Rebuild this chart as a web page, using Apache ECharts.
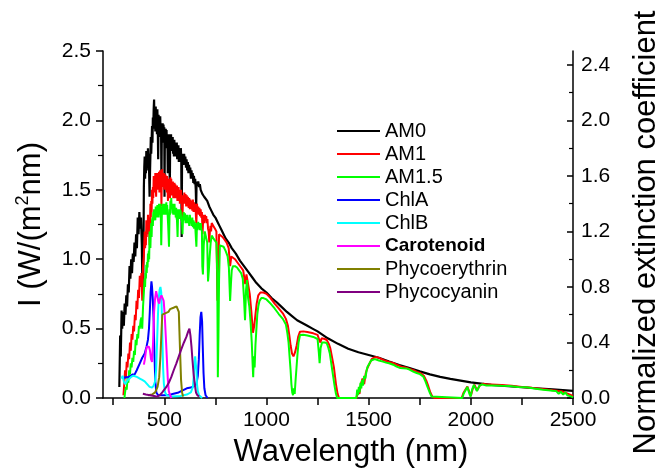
<!DOCTYPE html>
<html>
<head>
<meta charset="utf-8">
<script src="https://cdn.jsdelivr.net/npm/echarts@6/dist/echarts.min.js"></script>
<style>
  html, body { margin: 0; padding: 0; background: #fff; }
  #chart { width: 660px; height: 472px; }
</style>
</head>
<body>
<div id="chart"></div>
<script>
// Solar irradiance spectra, W/(m^2 nm), as [wavelength nm, value]
const am0 = [[280,0.08],[284,0.45],[287,0.3],[291,0.63],[294,0.5],[298,0.62],[302,0.52],[306,0.68],[310,0.6],[314,0.74],[318,0.66],[322,0.82],[326,0.76],[330,0.95],[334,0.86],[338,1.0],[342,0.9],[346,1.04],[350,0.98],[354,1.12],[358,1.02],[362,1.18],[366,1.08],[370,1.3],[374,1.18],[378,1.34],[382,1.22],[386,1.3],[390,1.1],[393,0.78],[395,1.2],[397,0.8],
  [400,1.52],[402,1.66],[404,1.74],[406,1.58],[408,1.7],[410,1.62],[412,1.78],[414,1.64],[416,1.74],[418,1.66],[420,1.8],[422,1.7],[424,1.76],[426,1.6],[428,1.45],[430,1.62],[432,1.75],[434,1.88],[436,1.76],[438,1.86],[440,1.96],[442,1.84],[444,2.02],[446,1.94],[448,2.08],[450,2.15],[452,1.98],[454,2.06],[456,1.92],[458,2.1],[460,1.96],[462,2.05],[464,1.9],[466,2.08],[468,1.95],[470,1.72],[472,2.04],[474,1.92],[476,2.02],[478,1.88],[480,2.03],[482,1.9],[484,1.98],[486,1.55],[488,1.96],[490,1.86],[492,1.98],[494,1.84],[496,1.97],[498,1.88],[500,1.95],[501,1.45],[503,1.92],[505,1.82],[507,1.94],[509,1.84],[511,1.93],[513,1.8],[515,1.9],[517,1.62],[519,1.9],[521,1.8],[523,1.88],[525,1.78],[527,1.5],[529,1.9],[531,1.84],[533,1.9],[535,1.8],[537,1.88],[539,1.78],[541,1.88],[543,1.76],[545,1.86],[547,1.74],[549,1.86],[551,1.78],[553,1.84],[555,1.74],[557,1.84],[559,1.76],[561,1.84],[563,1.72],[565,1.82],[567,1.74],[569,1.82],[571,1.7],[573,1.8],[575,1.72],[577,1.8],[579,1.7],[581,1.8],[583,1.72],[585,1.16],[587,1.76],[589,1.7],[591,1.76],[594,1.68],[597,1.76],[600,1.7],[603,1.74],[606,1.66],[609,1.72],[612,1.64],[615,1.7],[618,1.62],[621,1.68],[624,1.62],[627,1.66],[630,1.58],[633,1.64],[636,1.58],[639,1.62],[642,1.55],[645,1.6],[648,1.54],[651,1.58],[654,1.5],[656,1.38],[658,1.56],[662,1.54],[666,1.56],[670,1.52],[674,1.54],[678,1.5],[682,1.51],[686,1.47],[690,1.48],[695,1.45],[700,1.45],
  [710,1.42],[720,1.38],[730,1.35],[740,1.32],[750,1.3],[760,1.27],[770,1.24],[780,1.21],[790,1.18],[800,1.15],[815,1.12],[830,1.08],[850,1.04],[870,0.99],[890,0.95],[910,0.91],[930,0.87],[950,0.83],[975,0.79],[1000,0.76],[1025,0.72],[1050,0.69],[1075,0.655],[1100,0.62],[1125,0.59],[1150,0.56],[1175,0.54],[1200,0.52],[1225,0.5],[1250,0.48],[1275,0.455],[1300,0.43],[1350,0.39],[1400,0.355],[1450,0.33],[1500,0.31],[1550,0.29],[1600,0.262],[1650,0.237],[1700,0.215],[1750,0.192],[1800,0.17],[1850,0.152],[1900,0.138],[1950,0.125],[2000,0.112],[2100,0.095],[2200,0.083],[2300,0.072],[2400,0.062],[2500,0.052]];

const am1 = [[300,0.02],[304,0.1],[308,0.2],[312,0.14],[316,0.26],[320,0.22],[324,0.32],[328,0.28],[332,0.4],[336,0.34],[340,0.46],[344,0.42],[348,0.52],[352,0.48],[356,0.6],[360,0.56],[364,0.7],[368,0.64],[372,0.78],[376,0.72],[380,0.88],[384,0.8],[388,0.9],[392,0.7],[396,0.95],
  [400,1.02],[402,1.12],[404,1.2],[406,1.08],[408,1.16],[410,1.1],[412,1.28],[414,1.16],[416,1.26],[418,1.18],[420,1.32],[422,1.22],[424,1.3],[426,1.2],[428,1.1],[430,1.26],[432,1.4],[434,1.3],[436,1.42],[438,1.34],[440,1.5],[442,1.4],[444,1.52],[446,1.44],[448,1.6],[450,1.5],[452,1.58],[454,1.48],[456,1.62],[458,1.52],[460,1.45],[462,1.6],[464,1.52],[466,1.62],[468,1.5],[470,1.6],[472,1.5],[474,1.63],[476,1.48],[478,1.6],[480,1.64],[482,1.52],[484,1.6],[486,1.38],[488,1.6],[490,1.65],[492,1.54],[494,1.62],[496,1.52],[498,1.62],[500,1.5],[502,1.6],[504,1.5],[506,1.61],[508,1.5],[510,1.6],[512,1.48],[514,1.6],[516,1.5],[518,1.42],[520,1.58],[522,1.48],[524,1.58],[526,1.5],[528,1.44],[530,1.59],[532,1.48],[534,1.58],[536,1.46],[538,1.56],[540,1.48],[542,1.56],[544,1.44],[546,1.54],[548,1.46],[550,1.55],[552,1.44],[554,1.54],[556,1.45],[558,1.52],[560,1.44],[562,1.53],[564,1.42],[566,1.5],[568,1.44],[570,1.52],[572,1.42],[574,1.5],[576,1.4],[578,1.5],[580,1.42],[582,1.5],[586,1.4],[589,1.3],[592,1.46],[595,1.4],[598,1.48],[601,1.4],[604,1.47],[607,1.38],[610,1.46],[613,1.38],[616,1.45],[619,1.37],[622,1.44],[625,1.36],[628,1.43],[631,1.36],[634,1.42],[637,1.35],[640,1.43],[643,1.34],[646,1.41],[649,1.34],[652,1.4],[655,1.3],[657,1.26],[660,1.4],[663,1.33],[666,1.38],[669,1.32],[672,1.37],[675,1.31],[678,1.36],[681,1.3],[684,1.34],[687,1.18],[690,1.28],[693,1.32],[696,1.26],[699,1.32],[702,1.28],[705,1.31],[708,1.26],[711,1.29],[714,1.22],[717,1.2],[720,1.12],[723,1.2],[726,1.24],[729,1.2],[732,1.26],
  [740,1.24],[748,1.22],[755,1.2],[760,0.7],[764,0.9],[768,1.18],[775,1.19],[785,1.16],[795,1.14],[805,1.12],[815,1.08],[822,0.95],[828,1.02],[836,1.01],[846,1.0],[856,0.98],[866,0.96],[876,0.94],[886,0.92],[896,0.82],[902,0.89],[910,0.82],[918,0.75],[926,0.62],[934,0.47],[940,0.52],[946,0.6],[952,0.68],[960,0.74],[970,0.76],[985,0.76],[1000,0.75],[1020,0.72],[1040,0.68],[1060,0.645],[1080,0.61],[1095,0.57],[1105,0.52],[1112,0.45],[1118,0.38],[1125,0.32],[1132,0.3],[1140,0.33],[1148,0.38],[1155,0.44],[1164,0.478],[1180,0.48],[1200,0.475],[1229,0.466],[1250,0.455],[1258,0.42],[1264,0.4],[1270,0.43],[1285,0.425],[1295,0.418],[1305,0.39],[1312,0.36],[1320,0.3],[1330,0.22],[1340,0.1],[1348,0.03],[1355,0.0],[1440,0.0],[1448,0.05],[1455,0.03],[1462,0.1],[1470,0.14],[1478,0.1],[1486,0.18],[1495,0.22],[1505,0.25],[1515,0.28],[1525,0.29],[1540,0.295],[1556,0.285],[1575,0.272],[1600,0.26],[1620,0.252],[1637,0.24],[1660,0.226],[1680,0.22],[1700,0.21],[1720,0.2],[1740,0.185],[1755,0.178],[1770,0.16],[1782,0.125],[1792,0.085],[1802,0.04],[1812,0.01],[1822,0.0],[1955,0.0],[1965,0.04],[1983,0.082],[1995,0.035],[2000,0.015],[2010,0.07],[2018,0.097],[2030,0.055],[2045,0.092],[2060,0.102],[2080,0.098],[2100,0.097],[2150,0.094],[2200,0.089],[2250,0.08],[2300,0.073],[2350,0.064],[2400,0.055],[2450,0.046],[2500,0.015]];

const am15 = [[305,0.0],[308,0.04],[312,0.08],[316,0.06],[320,0.14],[324,0.11],[328,0.2],[332,0.17],[336,0.25],[340,0.22],[344,0.29],[348,0.26],[352,0.34],[356,0.31],[360,0.42],[364,0.38],[368,0.46],[372,0.43],[376,0.52],[380,0.5],[384,0.56],[388,0.58],[392,0.5],[396,0.66],
  [400,0.76],[402,0.82],[404,0.86],[406,0.8],[408,0.9],[410,0.86],[412,0.96],[414,0.9],[416,0.98],[418,0.94],[420,1.04],[422,0.98],[424,1.06],[426,1.0],[428,1.2],[430,1.1],[432,1.08],[434,1.2],[436,1.26],[438,1.16],[440,1.28],[442,1.3],[444,1.24],[446,1.34],[448,1.28],[450,1.36],[452,1.3],[454,1.34],[456,1.28],[458,1.38],[460,1.32],[462,1.36],[464,1.3],[466,1.39],[468,1.32],[470,1.37],[472,1.3],[474,1.4],[476,1.32],[478,1.38],[480,1.33],[482,1.4],[485,1.1],[488,1.32],[490,1.38],[492,1.32],[494,1.4],[496,1.33],[498,1.38],[500,1.32],[502,1.4],[504,1.33],[506,1.38],[508,1.32],[510,1.41],[512,1.34],[514,1.39],[516,1.33],[519,1.24],[523,1.09],[526,1.36],[528,1.32],[530,1.42],[532,1.36],[534,1.44],[536,1.36],[538,1.4],[540,1.33],[542,1.4],[544,1.32],[546,1.38],[548,1.32],[550,1.4],[552,1.33],[554,1.37],[556,1.3],[558,1.37],[560,1.3],[562,1.28],[565,1.16],[568,1.36],[570,1.3],[572,1.35],[574,1.29],[576,1.36],[578,1.3],[580,1.35],[583,1.28],[586,1.3],[589,1.18],[592,1.3],[595,1.34],[598,1.28],[601,1.33],[604,1.26],[607,1.32],[610,1.26],[613,1.32],[616,1.26],[619,1.3],[622,1.24],[625,1.32],[628,1.26],[631,1.29],[634,1.24],[637,1.3],[640,1.23],[643,1.28],[646,1.22],[649,1.27],[652,1.22],[655,1.22],[657,1.09],[660,1.26],[663,1.21],[666,1.27],[669,1.22],[672,1.26],[675,1.21],[678,1.26],[681,1.22],[684,1.2],[686,0.95],[689,0.89],[693,1.1],
  [698,1.2],[704,1.2],[710,1.12],[714,0.84],[718,0.92],[722,1.02],[727,1.12],[732,1.17],[740,1.15],[748,1.14],[755,1.12],[759,0.9],[762,0.15],[765,0.45],[768,0.85],[772,1.1],[780,1.11],[790,1.09],[800,1.06],[810,1.02],[816,0.94],[822,0.7],[826,0.82],[830,0.92],[836,0.95],[846,0.95],[856,0.94],[866,0.92],[876,0.9],[884,0.86],[890,0.72],[895,0.56],[900,0.78],[905,0.85],[910,0.72],[916,0.66],[922,0.55],[928,0.4],[932,0.25],[935,0.15],[938,0.3],[942,0.22],[946,0.38],[950,0.48],[955,0.6],[960,0.66],[966,0.7],[975,0.72],[985,0.72],[1000,0.71],[1020,0.68],[1040,0.645],[1060,0.605],[1080,0.57],[1095,0.53],[1102,0.47],[1108,0.4],[1113,0.3],[1118,0.2],[1122,0.1],[1126,0.04],[1130,0.02],[1134,0.07],[1138,0.03],[1142,0.12],[1147,0.22],[1152,0.32],[1157,0.4],[1164,0.454],[1180,0.455],[1200,0.45],[1229,0.44],[1250,0.425],[1256,0.33],[1260,0.25],[1265,0.36],[1272,0.4],[1285,0.4],[1295,0.395],[1303,0.36],[1310,0.32],[1316,0.26],[1322,0.2],[1328,0.14],[1334,0.08],[1340,0.03],[1346,0.0],[1440,0.0],[1444,0.06],[1448,0.02],[1452,0.08],[1456,0.04],[1460,0.11],[1464,0.07],[1468,0.13],[1472,0.09],[1478,0.16],[1484,0.14],[1490,0.2],[1495,0.226],[1502,0.24],[1512,0.27],[1520,0.275],[1530,0.28],[1539,0.285],[1550,0.27],[1556,0.27],[1570,0.262],[1585,0.255],[1600,0.25],[1620,0.24],[1637,0.226],[1655,0.216],[1670,0.214],[1686,0.212],[1700,0.205],[1718,0.19],[1735,0.18],[1751,0.172],[1768,0.153],[1778,0.12],[1788,0.08],[1800,0.035],[1808,0.01],[1815,0.0],[1958,0.0],[1966,0.035],[1983,0.08],[1993,0.03],[1999,0.01],[2006,0.06],[2015,0.094],[2030,0.05],[2042,0.088],[2054,0.098],[2076,0.09],[2108,0.09],[2150,0.088],[2190,0.087],[2230,0.08],[2271,0.077],[2310,0.068],[2353,0.06],[2380,0.055],[2400,0.052],[2418,0.05],[2430,0.03],[2440,0.045],[2452,0.025],[2462,0.04],[2472,0.02],[2480,0.032],[2490,0.012],[2500,0.005]];

// Pigment absorption, normalized extinction coefficient
const chlA = [[298,0.14],[310,0.15],[322,0.15],[335,0.16],[345,0.17],[355,0.17],[365,0.2],[380,0.25],[392,0.29],[404,0.32],[413,0.37],[420,0.42],[425,0.5],[429,0.62],[433,0.76],[437,0.84],[440,0.8],[444,0.7],[448,0.55],[452,0.3],[456,0.12],[461,0.04],[470,0.02],[490,0.02],[520,0.02],[545,0.03],[570,0.04],[590,0.055],[610,0.07],[630,0.075],[645,0.085],[657,0.1],[664,0.16],[669,0.28],[673,0.45],[677,0.58],[681,0.62],[685,0.55],[688,0.38],[692,0.18],[696,0.07],[702,0.02],[712,0.0]];
const chlB = [[290,0.14],[296,0.16],[302,0.12],[308,0.1],[314,0.11],[322,0.13],[330,0.14],[340,0.155],[350,0.16],[358,0.155],[368,0.15],[380,0.14],[392,0.13],[404,0.12],[416,0.1],[428,0.08],[440,0.075],[448,0.09],[455,0.12],[460,0.2],[465,0.42],[469,0.6],[473,0.72],[477,0.78],[481,0.8],[485,0.76],[488,0.6],[491,0.4],[494,0.22],[498,0.1],[504,0.04],[512,0.02],[540,0.01],[580,0.015],[610,0.025],[630,0.04],[640,0.08],[645,0.18],[648,0.26],[651,0.3],[654,0.29],[657,0.2],[660,0.1],[664,0.05],[670,0.02],[685,0.0]];
const carotenoid = [[400,0.24],[405,0.28],[410,0.34],[415,0.37],[420,0.38],[425,0.37],[430,0.34],[435,0.28],[440,0.26],[445,0.4],[450,0.62],[455,0.72],[460,0.77],[465,0.76],[470,0.7],[475,0.68],[480,0.72],[486,0.74],[492,0.74],[497,0.7],[502,0.6],[507,0.45],[512,0.3],[517,0.14],[522,0.05],[528,0.02],[535,0.0]];
const phycoerythrin = [[420,0.02],[440,0.025],[455,0.04],[467,0.08],[475,0.15],[481,0.3],[486,0.47],[490,0.6],[496,0.61],[504,0.61],[512,0.61],[520,0.62],[528,0.64],[536,0.645],[545,0.65],[553,0.66],[560,0.66],[567,0.665],[571,0.62],[574,0.48],[578,0.3],[582,0.13],[587,0.04],[592,0.01]];
const phycocyanin = [[395,0.03],[410,0.025],[430,0.02],[450,0.015],[465,0.01],[478,0.02],[490,0.04],[500,0.06],[510,0.08],[522,0.11],[534,0.15],[546,0.2],[559,0.25],[571,0.3],[583,0.35],[596,0.4],[608,0.44],[617,0.48],[623,0.5],[628,0.45],[633,0.37],[638,0.27],[643,0.18],[649,0.1],[655,0.04],[662,0.02],[670,0.01]];

// Axis ticks and labels
const xTicks = [250, 500, 750, 1000, 1250, 1500, 1750, 2000, 2250, 2500];
const xLabels = [500, 1000, 1500, 2000, 2500];
const rightTicks = [0, 0.4, 0.8, 1.2, 1.6, 2.0, 2.4];
const rightMinorTicks = [0.2, 0.6, 1.0, 1.4, 1.8, 2.2];

const FONT = '"Liberation Sans", Arial, Helvetica, sans-serif';

const solarSeries = [
  { name: 'AM0', data: am0, color: '#000000', width: 2.2 },
  { name: 'AM1', data: am1, color: '#ff0000', width: 2 },
  { name: 'AM1.5', data: am15, color: '#00ff00', width: 2 }
];
const pigmentSeries = [
  { name: 'ChlA', data: chlA, color: '#0000ff' },
  { name: 'ChlB', data: chlB, color: '#00ffff' },
  { name: 'Carotenoid', data: carotenoid, color: '#ff00ff' },
  { name: 'Phycoerythrin', data: phycoerythrin, color: '#808000' },
  { name: 'Phycocyanin', data: phycocyanin, color: '#800080' }
];

const series = [];
solarSeries.forEach(s => series.push({
  name: s.name, type: 'line', data: s.data, yAxisIndex: 0,
  symbol: 'none', showSymbol: false,
  lineStyle: { color: s.color, width: s.width },
  itemStyle: { color: s.color }
}));
pigmentSeries.forEach(s => series.push({
  name: s.name, type: 'line', data: s.data, yAxisIndex: 1,
  symbol: 'none', showSymbol: false,
  lineStyle: { color: s.color, width: 2 },
  itemStyle: { color: s.color }
}));

const axisLineStyle = { color: '#000', width: 1.5 };

const chart = echarts.init(document.getElementById('chart'), null, { renderer: 'canvas' });
chart.setOption({
  animation: false,
  backgroundColor: '#fff',
  grid: { left: 103, right: 87, top: 51, bottom: 74, containLabel: false, outerBoundsMode: 'none' },
  legend: {
    orient: 'vertical',
    left: 332, top: 116,
    icon: 'rect',
    itemWidth: 43, itemHeight: 2, itemGap: 3,
    selectedMode: false,
    data: ['AM0', 'AM1', 'AM1.5', 'ChlA', 'ChlB', 'Carotenoid', 'Phycoerythrin', 'Phycocyanin'],
    formatter: n => n === 'Carotenoid' ? '{b|' + n + '}' : n,
    textStyle: {
      fontFamily: FONT, fontSize: 20, color: '#000', lineHeight: 20,
      rich: { b: { fontFamily: FONT, fontSize: 19, fontWeight: 'bold', color: '#000', lineHeight: 20 } }
    }
  },
  xAxis: {
    type: 'value', min: 200, max: 2500,
    name: 'Wavelength (nm)', nameLocation: 'middle', nameGap: 39,
    nameTextStyle: { fontFamily: FONT, fontSize: 31, color: '#000', padding: [0, 0, 0, 26] },
    axisLine: { show: true, lineStyle: axisLineStyle },
    axisTick: { show: true, inside: false, length: 7, customValues: xTicks, lineStyle: axisLineStyle },
    axisLabel: { customValues: xLabels, fontFamily: FONT, fontSize: 21, color: '#000', margin: 12, formatter: v => String(v) },
    splitLine: { show: false }
  },
  yAxis: [
    {
      type: 'value', min: 0, max: 2.5, interval: 0.5, position: 'left',
      name: 'I (W/(m{sup|2}nm)', nameLocation: 'middle', nameRotate: 90, nameGap: 55,
      nameTextStyle: {
        fontFamily: FONT, fontSize: 31, color: '#000', lineHeight: 34,
        rich: { sup: { fontFamily: FONT, fontSize: 18, color: '#000', lineHeight: 20, verticalAlign: 'top' } }
      },
      axisLine: { show: true, lineStyle: axisLineStyle },
      axisTick: { show: true, inside: false, length: 7, lineStyle: axisLineStyle },
      minorTick: { show: true, splitNumber: 2, length: 5, lineStyle: { color: '#000', width: 1.2 } },
      axisLabel: { fontFamily: FONT, fontSize: 21, color: '#000', margin: 12, formatter: v => v.toFixed(1) },
      splitLine: { show: false }
    },
    {
      type: 'value', min: 0, max: 2.5, position: 'right',
      name: 'Normalized extinction coefficient', nameLocation: 'middle', nameRotate: 90, nameGap: 58,
      nameTextStyle: { fontFamily: FONT, fontSize: 31, color: '#000', padding: [0, 16, 0, 0] },
      axisLine: { show: true, onZero: false, lineStyle: axisLineStyle },
      axisTick: { show: true, inside: true, length: 6, customValues: rightTicks, lineStyle: axisLineStyle },
      axisLabel: { customValues: rightTicks, fontFamily: FONT, fontSize: 21, color: '#000', margin: 8, formatter: v => v.toFixed(1) },
      splitLine: { show: false }
    },
    {
      type: 'value', min: 0, max: 2.5, position: 'right',
      axisLine: { show: false },
      axisTick: { show: true, inside: true, length: 4, customValues: rightMinorTicks, lineStyle: { color: '#000', width: 1.2 } },
      axisLabel: { show: false },
      splitLine: { show: false }
    }
  ],
  series: series
});
</script>
</body>
</html>
